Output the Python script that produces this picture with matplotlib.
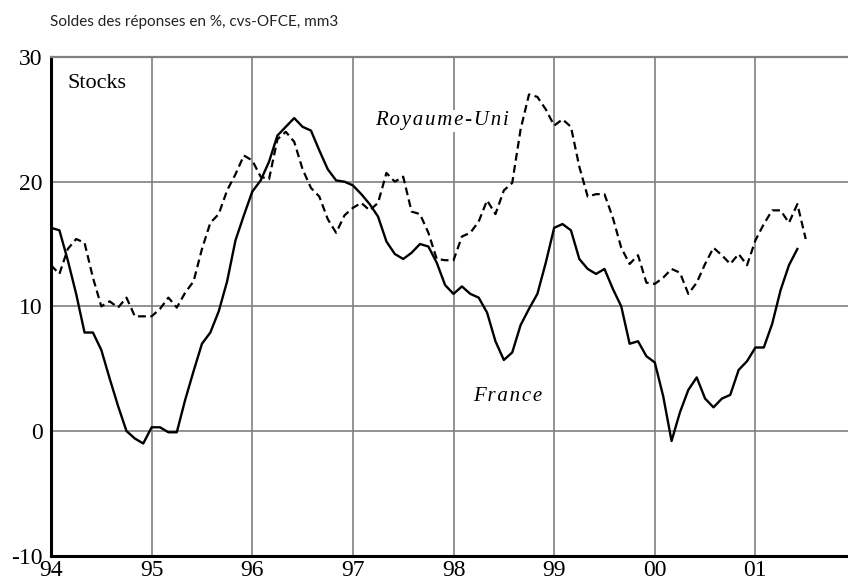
import matplotlib
matplotlib.use("Agg")
import matplotlib.pyplot as plt
import numpy as np

plt.rcParams['axes.unicode_minus'] = False

# Soldes mensuels (mm3), janvier 1994 -> juin/juillet 2001
france = [16.3, 16.1, 13.7, 11.0, 7.9, 7.9, 6.5, 4.2, 2.0, 0.0, -0.6, -1.0,
          0.3, 0.3, -0.1, -0.1, 2.5, 4.8, 7.0, 7.9, 9.6, 12.0, 15.3, 17.3,
          19.2, 20.1, 21.6, 23.7, 24.4, 25.1, 24.4, 24.1, 22.5, 21.0, 20.1, 20.0,
          19.7, 19.0, 18.2, 17.2, 15.2, 14.2, 13.8, 14.3, 15.0, 14.8, 13.5, 11.7,
          11.0, 11.6, 11.0, 10.7, 9.5, 7.2, 5.7, 6.3, 8.5, 9.8, 11.0, 13.5,
          16.3, 16.6, 16.1, 13.8, 13.0, 12.6, 13.0, 11.4, 10.0, 7.0, 7.2, 6.0,
          5.5, 2.8, -0.8, 1.5, 3.3, 4.3, 2.6, 1.9, 2.6, 2.9, 4.9, 5.6,
          6.7, 6.7, 8.6, 11.3, 13.3, 14.6]
royaume_uni = [13.3, 12.6, 14.6, 15.4, 15.1, 12.3, 10.0, 10.4, 9.9, 10.7, 9.2, 9.2,
               9.2, 9.8, 10.7, 9.9, 11.1, 12.0, 14.6, 16.7, 17.4, 19.3, 20.6, 22.1,
               21.7, 20.4, 20.2, 23.4, 24.0, 23.2, 21.0, 19.5, 18.8, 17.0, 15.9, 17.3,
               17.9, 18.3, 17.7, 18.3, 20.7, 20.0, 20.4, 17.6, 17.4, 15.9, 13.8, 13.7,
               13.7, 15.6, 15.9, 16.8, 18.5, 17.4, 19.3, 19.9, 24.2, 27.0, 26.8, 25.8,
               24.5, 25.0, 24.4, 21.2, 18.8, 19.0, 19.0, 17.1, 14.7, 13.4, 14.1, 11.9,
               11.8, 12.3, 13.0, 12.7, 11.0, 11.9, 13.4, 14.7, 14.1, 13.4, 14.2, 13.3,
               15.3, 16.6, 17.7, 17.7, 16.7, 18.2, 15.4]
annees = [94, 95, 96, 97, 98, 99, 100, 101]
labels_annees = ['94', '95', '96', '97', '98', '99', '00', '01']

t_fr = 94 + np.arange(len(france)) / 12
t_uk = 94 + np.arange(len(royaume_uni)) / 12

serif = 'Liberation Serif'

fig = plt.figure(figsize=(8.48, 5.84), dpi=100)
ax = fig.add_axes([51 / 848, 1 - 555.7 / 584, 1 - 51 / 848, (555.7 - 57) / 584])

ax.plot(t_uk, royaume_uni, color='black', lw=1.6, linestyle=(0, (3.5, 2)), zorder=3)
ax.plot(t_fr, france, color='black', lw=1.7, zorder=3)

ax.set_xlim(94, 101.92)
ax.set_ylim(-10, 30)
ax.set_xticks(annees)
ax.set_xticklabels(labels_annees)
ax.set_yticks([-10, 0, 10, 20, 30])
ax.grid(True, color='#808080', lw=1.2)
ax.set_axisbelow(True)
ax.tick_params(length=0, labelsize=17, pad=3)
ax.tick_params(axis='y', pad=6)
for lab in ax.get_xticklabels() + ax.get_yticklabels():
    lab.set_family(serif)

ax.spines['right'].set_visible(False)
ax.spines['top'].set_color('#808080')
ax.spines['top'].set_linewidth(1.6)
ax.spines['left'].set_linewidth(2.2)
ax.spines['bottom'].set_linewidth(2.2)

ax.text(94.16, 27.9, 'Stocks', family=serif, fontsize=16, va='center')
ax.text(97.89, 24.9, '\u200a'.join('Royaume-Uni'), family=serif, style='italic',
        fontsize=15, ha='center', va='center',
        bbox=dict(facecolor='white', edgecolor='none', pad=1))
ax.text(98.54, 2.8, '\u200a'.join('France'), family=serif, style='italic',
        fontsize=15, ha='center', va='center',
        bbox=dict(facecolor='white', edgecolor='none', pad=1))

fig.text(50 / 848, 1 - 22 / 584, 'Soldes des réponses en %, cvs-OFCE, mm3',
         family='Lato', fontsize=11, color='#222222', va='center')

fig.savefig('out.png', dpi=100)
